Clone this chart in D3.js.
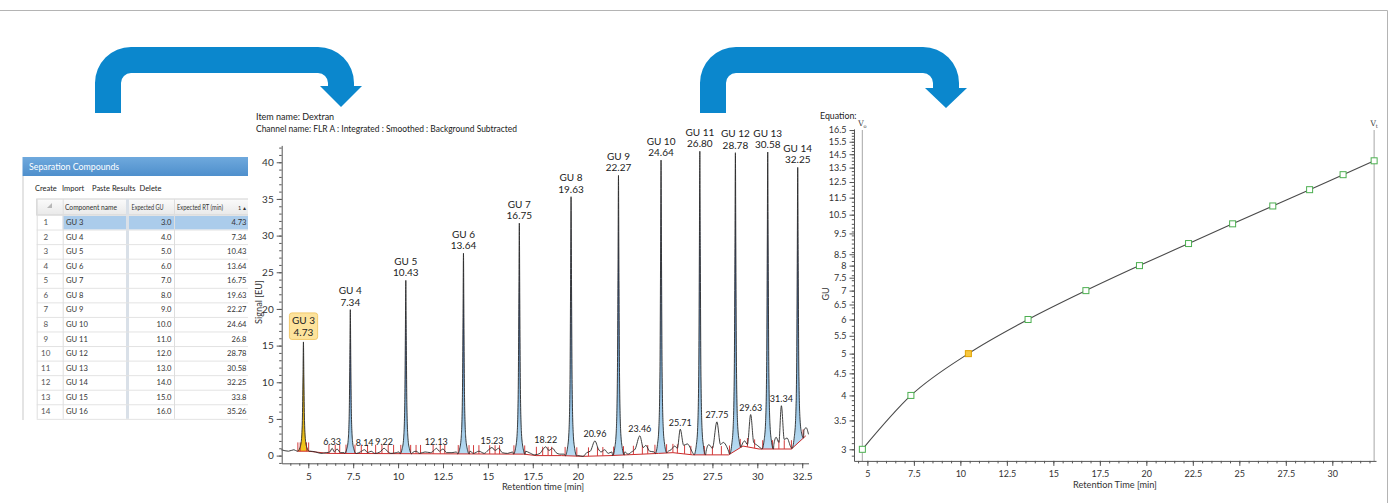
<!DOCTYPE html>
<html>
<head>
<meta charset="utf-8">
<script src="https://cdn.jsdelivr.net/npm/d3@7"></script>
<style>
  html, body { margin: 0; padding: 0; background: #fff; }
  svg { display: block; font-family: Lato, "Open Sans", sans-serif; }
  .tick text { fill: #333; }
  .axis path, .axis line { stroke: #555; }
</style>
</head>
<body>
<svg id="chart" width="1390" height="503"></svg>
<script>
// ---------- data ----------
// separation compounds table
const compNames = ['GU 3','GU 4','GU 5','GU 6','GU 7','GU 8','GU 9','GU 10','GU 11','GU 12','GU 13','GU 14','GU 15','GU 16'];
const compGU = [3,4,5,6,7,8,9,10,11,12,13,14,15,16];
const compRT = [4.73,7.34,10.43,13.64,16.75,19.63,22.27,24.64,26.8,28.78,30.58,32.25,33.8,35.26];

// chromatogram, labelled GU peaks
const peakGU = [3,4,5,6,7,8,9,10,11,12,13,14];
const peakRT = [4.73,7.34,10.43,13.64,16.75,19.63,22.27,24.64,26.80,28.78,30.58,32.25];
const peakHeight = [15.5,19.9,23.9,27.6,31.7,35.3,38.2,40.3,41.5,41.3,41.4,39.3];

// small labelled peaks
const minorRT = [6.33,8.14,9.22,12.13,15.23,18.22,20.96,23.46,25.71,27.75,29.63,31.34];
const minorHeight = [1.0,0.8,1.0,1.0,1.1,1.2,2.0,2.7,3.6,4.6,5.6,6.8];

// background trace between the big peaks [time, signal]
const traceNoise = [
  [3.5,0.8],[3.9,0.6],[4.2,0.8],[4.38,0.6],[5.1,0.6],[5.4,0.5],[5.7,0.3],[6.0,0.4],[6.2,0.5],[6.33,1.0],
  [6.45,0.5],[6.6,0.9],[6.8,0.4],[7.0,0.4],[7.7,0.3],[7.9,0.5],[8.14,0.8],[8.3,0.4],[8.5,0.6],[8.7,0.3],
  [9.0,0.5],[9.22,1.0],[9.4,0.6],[9.6,0.3],[9.9,0.4],[10.05,0.5],[10.8,0.4],[11.0,0.6],[11.2,0.3],[11.5,0.5],
  [11.8,0.4],[12.0,0.7],[12.13,1.0],[12.3,0.6],[12.5,0.9],[12.7,0.4],[13.0,0.4],[13.25,0.5],[14.0,0.6],[14.2,0.3],
  [14.5,0.6],[14.8,0.3],[15.0,0.7],[15.23,1.1],[15.4,0.7],[15.6,1.0],[15.8,0.4],[16.1,0.3],[16.38,0.5],[17.1,0.6],
  [17.3,0.4],[17.6,0.1],[17.9,0.3],[18.05,0.8],[18.22,1.2],[18.4,0.7],[18.6,1.0],[18.8,0.4],[19.0,0.2],[19.25,0.2],
  [20.0,0.0],[20.3,-0.1],[20.5,0.4],[20.7,0.6],[20.96,2.0],[21.15,0.9],[21.3,0.5],[21.5,0.8],[21.7,0.3],[21.9,0.5],
  [22.62,0.5],[22.8,0.2],[23.0,0.5],[23.2,0.9],[23.46,2.7],[23.65,1.1],[23.8,1.4],[24.0,0.6],[24.25,0.5],[25.0,0.5],
  [25.2,0.8],[25.4,1.3],[25.55,1.0],[25.71,3.6],[25.9,1.4],[26.1,1.6],[26.4,0.4],[27.15,0.6],[27.3,1.5],[27.5,1.0],
  [27.75,4.6],[27.95,1.5],[28.1,1.8],[28.4,0.6],[29.12,1.3],[29.3,2.0],[29.45,1.5],[29.63,5.6],[29.8,1.8],[30.0,1.4],
  [30.2,1.0],[30.92,1.5],[31.05,2.5],[31.2,1.8],[31.34,6.8],[31.5,2.2],[31.65,2.4],[31.88,1.1],[32.6,3.5],[32.72,3.8],[32.85,2.9]
];

// integration baseline [time, signal]
const baselineRT    = [4.4,5.0,6.1,17.0,17.7,19.1,20.3,21.8,24.5,25.3,26.4,28.4,29.2,30.1,31.9,32.7];
const baselineLevel = [0.6,0.6,0.3,0.2,0.0,0.0,-0.1,0.0,0.3,0.4,0.1,0.1,1.3,0.9,0.9,2.7];

// integration event markers (time)
const eventRT = [4.42,4.55,4.9,5.02,6.15,6.5,6.75,7.1,7.6,7.95,8.3,8.75,9.1,9.45,9.75,10.15,10.7,11.0,11.25,11.95,
  12.35,12.6,13.35,13.95,14.2,14.5,15.1,15.4,15.65,16.45,17.05,17.7,18.05,18.35,18.55,19.3,19.95,20.6,21.1,21.4,
  22.0,22.55,23.1,23.6,23.9,24.3,24.95,25.3,25.55,25.95,26.3,27.05,27.5,28.0,28.45,29.05,29.45,29.85,30.3,30.85,
  31.2,31.5,31.9,32.55];

const chromXTicks = [5,7.5,10,12.5,15,17.5,20,22.5,25,27.5,30,32.5];
const chromYTicks = [0,5,10,15,20,25,30,35,40];

// calibration curve
const calibRT = [4.73,7.34,10.43,13.64,16.75,19.63,22.27,24.64,26.80,28.78,30.58,32.25];
const calibGU = [3,4,5,6,7,8,9,10,11,12,13,14];
const calibXTicks = [5,7.5,10,12.5,15,17.5,20,22.5,25,27.5,30];
const calibYTicks = [3,3.5,4,4.5,5,5.5,6,6.5,7,7.5,8,8.5,9.5,10.5,11.5,12.5,13.5,14.5,15.5,16.5];
const markerRT = [4.73,32.25];
const markerName = ['o','t'];

// ---------- drawing ----------
const svg = d3.select('#chart');
const defs = svg.append('defs');

function grad(id, stops) {
  const g = defs.append('linearGradient').attr('id', id)
    .attr('x1', 0).attr('y1', 0).attr('x2', 0).attr('y2', 1);
  stops.forEach(s => g.append('stop').attr('offset', s[0]).attr('stop-color', s[1]));
}
grad('peakBlue', [[0,'#0f1850'],[0.35,'#34569a'],[0.7,'#7fb1db'],[1,'#b9ddf3']]);
grad('peakGold', [[0,'#5a4000'],[0.3,'#b88a00'],[1,'#f6c81a']]);
grad('titleBar', [[0,'#6fa9dd'],[1,'#4e8fcc']]);
grad('headBg', [[0,'#fbfbfb'],[1,'#e9e9e9']]);

// frame
svg.append('path').attr('d', 'M0,10.5H1387.5V503')
  .attr('fill', 'none').attr('stroke', '#b4b4b4');

// arrows
const arrowColor = '#0b87cd';
function arrowPath(xl, xr, yBot, yTop, cx, headY, tipY, T, R, headHalf) {
  const r = R - T;
  const xa = cx - T / 2, xb = cx + T / 2;
  return `M${xl},${yBot}V${yTop + R}A${R},${R} 0 0 1 ${xl + R},${yTop}` +
    `H${xb - R}A${R},${R} 0 0 1 ${xb},${yTop + R}V${headY}H${cx + headHalf}L${cx},${tipY}L${cx - headHalf},${headY}H${xa}` +
    `V${yTop + T + r}A${r},${r} 0 0 0 ${xa - r},${yTop + T}H${xr + r}A${r},${r} 0 0 0 ${xr},${yTop + T + r}V${yBot}Z`;
}
svg.append('path').attr('fill', arrowColor)
  .attr('d', arrowPath(95, 121, 113, 47, 341, 86, 107, 26, 36, 21));
svg.append('path').attr('fill', arrowColor)
  .attr('d', arrowPath(700, 726, 113, 47, 946, 88, 108, 26, 36, 21));

// ---------- table panel ----------
const tbl = svg.append('g');
tbl.append('clipPath').attr('id', 'tblClip').append('rect')
  .attr('x', 0).attr('y', 150).attr('width', 248).attr('height', 280);
const tg = tbl.append('g').attr('clip-path', 'url(#tblClip)');
tg.append('rect').attr('x', 22.5).attr('y', 157).attr('width', 240).attr('height', 19).attr('fill', 'url(#titleBar)');
tg.append('text').attr('x', 29).attr('y', 170).attr('fill', '#fff').attr('font-size', 8.8).text('Separation Compounds');
tg.append('line').attr('x1', 23).attr('x2', 23).attr('y1', 176).attr('y2', 420).attr('stroke', '#c9c9c9');

const tools = [['Create', 35], ['Import', 62], ['Paste Results', 92], ['Delete', 139.5]];
tg.selectAll('.tool').data(tools).join('text')
  .attr('x', d => d[1]).attr('y', 191).attr('font-size', 7.5).attr('fill', '#222').text(d => d[0]);

const colX = [36.7, 62.7, 126, 129, 174, 262];
const headTop = 199, headH = 16, rowH = 14.56;
const rowY = d3.scaleLinear().domain([0, 1]).range([headTop + headH, headTop + headH + rowH]);
const nRows = compNames.length;
const tableBottom = rowY(nRows);

tg.append('rect').attr('x', colX[0]).attr('y', headTop).attr('width', 230).attr('height', headH)
  .attr('fill', 'url(#headBg)').attr('stroke', '#d2d2d2');
// selected row
tg.append('rect').attr('x', colX[1]).attr('y', rowY(0)).attr('width', 200).attr('height', rowH).attr('fill', '#abcceb');
// column divider
tg.append('rect').attr('x', colX[2]).attr('y', headTop).attr('width', 3).attr('height', tableBottom - headTop).attr('fill', '#d9e0e8');
// grid
tg.selectAll('.hline').data(d3.range(nRows + 1)).join('line')
  .attr('x1', colX[0]).attr('x2', 250).attr('y1', d => rowY(d) + 0.5).attr('y2', d => rowY(d) + 0.5)
  .attr('stroke', '#e3e3e3');
[colX[0], colX[1], colX[4]].forEach(x => tg.append('line')
  .attr('x1', x + 0.5).attr('x2', x + 0.5).attr('y1', headTop).attr('y2', tableBottom).attr('stroke', '#dedede'));

tg.append('path').attr('d', `M${47},${208}L${52},${203}L${52},${208}Z`).attr('fill', '#b8b8b8');
const headers = [['Component name', 65, 52], ['Expected GU', 131.5, 32], ['Expected RT (min)', 177, 46], ['1 \u25B4', 238, 0]];
tg.selectAll('.head').data(headers).join('text')
  .attr('x', d => d[1]).attr('y', headTop + 10.8)
  .attr('textLength', d => d[2] || null).attr('lengthAdjust', 'spacingAndGlyphs')
  .attr('font-size', d => d[0].length < 4 ? 5.5 : 7.2).attr('fill', '#333').text(d => d[0]);

const rows = tg.selectAll('.row').data(compNames).join('g')
  .attr('transform', (d, i) => `translate(0,${rowY(i) + rowH / 2 + 2.8})`);
rows.append('text').attr('x', 45.7).attr('text-anchor', 'middle').attr('font-size', 8).attr('fill', '#555')
  .text((d, i) => i + 1);
rows.append('text').attr('x', 66).attr('font-size', 7.6).attr('fill', '#333').text(d => d);
rows.append('text').attr('x', 171.5).attr('text-anchor', 'end').attr('font-size', 7.6).attr('fill', '#333')
  .text((d, i) => compGU[i].toFixed(1));
rows.append('text').attr('x', 246.5).attr('text-anchor', 'end').attr('font-size', 7.6).attr('fill', '#333')
  .text((d, i) => String(compRT[i]));

// ---------- chromatogram ----------
const xC = d3.scaleLinear().domain([3.52, 32.85]).range([281.7, 808.5]);
const yC = d3.scaleLinear().domain([-1.05, 42.3]).range([463.3, 145.4]);
const baseAt = d3.scaleLinear().domain(baselineRT).range(baselineLevel).clamp(true);

svg.append('text').attr('x', 256).attr('y', 120).attr('font-size', 9).attr('fill', '#222')
  .text('Item name: Dextran');
svg.append('text').attr('x', 256).attr('y', 132).attr('font-size', 9).attr('fill', '#222')
  .attr('textLength', 261).attr('lengthAdjust', 'spacingAndGlyphs')
  .text('Channel name: FLR A : Integrated : Smoothed : Background Subtracted');

const chrom = svg.append('g');
const peakShape = [[-0.32,0],[-0.2,0.03],[-0.12,0.09],[-0.06,0.28],[-0.025,0.68],[0,1],[0.025,0.68],[0.06,0.28],[0.12,0.09],[0.2,0.03],[0.32,0]];
const peaks = peakRT.map((rt, i) => ({
  rt, gu: peakGU[i], h: peakHeight[i],
  pts: peakShape.map(([dt, f]) => ({ t: rt + dt, v: baseAt(rt + dt) + f * (peakHeight[i] - baseAt(rt)) }))
}));

const area = d3.area().x(d => xC(d.t)).y0(d => yC(baseAt(d.t))).y1(d => yC(d.v));
chrom.selectAll('.peakFill').data(peaks).join('path')
  .attr('fill', d => d.gu === 3 ? 'url(#peakGold)' : 'url(#peakBlue)')
  .attr('d', d => area(d.pts));

// red baseline and events
chrom.append('path')
  .attr('d', d3.line().x(d => xC(d[0])).y(d => yC(d[1]))(baselineRT.map((t, i) => [t, baselineLevel[i]])))
  .attr('fill', 'none').attr('stroke', '#cc2a2a').attr('stroke-width', 1);
chrom.selectAll('.evt').data(eventRT).join('line')
  .attr('x1', d => xC(d)).attr('x2', d => xC(d))
  .attr('y1', d => yC(baseAt(d))).attr('y2', d => yC(baseAt(d) + 1.2))
  .attr('stroke', '#d23c3c').attr('stroke-width', 1);

// signal trace
const trace = traceNoise
  .filter(p => !peakRT.some(rt => Math.abs(p[0] - rt) < 0.33))
  .map(p => ({ t: p[0], v: p[1] }))
  .concat(...peaks.map(p => p.pts))
  .sort((a, b) => a.t - b.t);
chrom.append('path')
  .attr('d', d3.line().x(d => xC(d.t)).y(d => yC(d.v)).curve(d3.curveMonotoneX)(trace))
  .attr('fill', 'none').attr('stroke', '#2a2a2a').attr('stroke-width', 0.9);

// axes
const xAxisC = chrom.append('g').attr('class', 'axis').attr('transform', `translate(0,${yC.range()[0]})`);
xAxisC.call(d3.axisBottom(xC).tickValues(d3.range(4, 33, 0.5)).tickSize(2.5).tickFormat('').tickSizeOuter(0));
xAxisC.append('g').call(d3.axisBottom(xC).tickValues(chromXTicks).tickSize(5).tickFormat(d3.format('~g')).tickSizeOuter(0))
  .call(g => g.select('.domain').remove())
  .selectAll('text').attr('font-size', 10).attr('dy', '0.85em');
const yAxisC = chrom.append('g').attr('class', 'axis').attr('transform', `translate(${xC.range()[0]},0)`);
yAxisC.call(d3.axisLeft(yC).tickValues(d3.range(-1, 43, 1)).tickSize(2.5).tickFormat('').tickSizeOuter(0));
yAxisC.append('g').call(d3.axisLeft(yC).tickValues(chromYTicks).tickSize(5).tickSizeOuter(0))
  .call(g => g.select('.domain').remove())
  .selectAll('text').attr('font-size', 10);
svg.selectAll('.axis text').attr('font-family', 'Lato, sans-serif');

chrom.append('text').attr('transform', 'translate(262,302) rotate(-90)').attr('text-anchor', 'middle')
  .attr('font-size', 9.2).attr('fill', '#333').text('Signal [EU]');
chrom.append('text').attr('x', 543).attr('y', 490).attr('text-anchor', 'middle')
  .attr('font-size', 9.2).attr('fill', '#333').text('Retention time [min]');

// peak labels
const gu3 = peaks.find(p => p.gu === 3);
const box = chrom.append('rect').attr('rx', 2.5).attr('fill', '#fde39c').attr('stroke', '#f2ca6e');
const labels = chrom.selectAll('.plab').data(peaks).join('g')
  .attr('transform', d => `translate(${xC(d.rt)},${yC(d.h) - (d.gu === 3 ? 6 : 4)})`);
labels.append('text').attr('y', -11.5).attr('text-anchor', 'middle').attr('font-size', 10).attr('fill', '#222')
  .text(d => 'GU ' + d.gu);
labels.append('text').attr('text-anchor', 'middle').attr('font-size', 10).attr('fill', '#222')
  .text(d => d.rt.toFixed(2));
const bb = labels.filter(d => d.gu === 3).node().getBBox();
box.attr('x', xC(gu3.rt) + bb.x - 2.5).attr('y', yC(gu3.h) - 6 + bb.y - 1.5)
  .attr('width', bb.width + 5).attr('height', bb.height + 3);

chrom.selectAll('.mlab').data(minorRT).join('text')
  .attr('x', d => xC(d)).attr('y', (d, i) => yC(minorHeight[i]) - 3.5)
  .attr('text-anchor', 'middle').attr('font-size', 9).attr('fill', '#222')
  .text(d => d.toFixed(2));

// ---------- calibration curve ----------
const xR = d3.scaleLinear().domain([4.28, 32.35]).range([854, 1376]);
const yR = d3.scaleLog().domain([2.82, 16.6]).range([460.9, 128.9]);
const cal = svg.append('g');

cal.append('text').attr('x', 820).attr('y', 119).attr('font-size', 8.8).attr('fill', '#222').text('Equation:');

cal.selectAll('.vline').data(markerRT).join('line')
  .attr('x1', d => xR(d)).attr('x2', d => xR(d)).attr('y1', 130).attr('y2', yR.range()[0])
  .attr('stroke', '#b5b5b5').attr('stroke-width', 1.2);
const vlab = cal.selectAll('.vlab').data(markerRT).join('text')
  .attr('x', d => xR(d)).attr('y', 126).attr('text-anchor', 'middle')
  .attr('font-family', '"DejaVu Serif", serif').attr('font-size', 7.5).attr('fill', '#333');
vlab.append('tspan').text('V');
vlab.append('tspan').attr('font-size', 5).attr('dy', 1.5).text((d, i) => markerName[i]);

const xAxisR = cal.append('g').attr('class', 'axis').attr('transform', `translate(0,${yR.range()[0]})`);
xAxisR.call(d3.axisBottom(xR).tickValues(d3.range(4.5, 32.4, 0.5)).tickSize(2.5).tickFormat('').tickSizeOuter(0));
xAxisR.append('g').call(d3.axisBottom(xR).tickValues(calibXTicks).tickSize(5).tickFormat(d3.format('~g')).tickSizeOuter(0))
  .call(g => g.select('.domain').remove())
  .selectAll('text').attr('font-size', 9).attr('dy', '0.85em');
const minorY = d3.range(2.9, 5, 0.1).concat(d3.range(5, 10, 0.2), d3.range(10, 16.6, 0.25));
const yAxisR = cal.append('g').attr('class', 'axis').attr('transform', `translate(${xR.range()[0]},0)`);
yAxisR.call(d3.axisLeft(yR).tickValues(minorY).tickSize(2.2).tickFormat('').tickSizeOuter(0));
yAxisR.append('g').call(d3.axisLeft(yR).tickValues(calibYTicks).tickSize(4.5).tickFormat(d3.format('~g')).tickSizeOuter(0))
  .call(g => g.select('.domain').remove())
  .selectAll('text').attr('font-size', 9);
svg.selectAll('.axis text').attr('font-family', 'Lato, sans-serif');

cal.append('text').attr('transform', 'translate(829,294) rotate(-90)').attr('text-anchor', 'middle')
  .attr('font-size', 9).attr('fill', '#333').text('GU');
cal.append('text').attr('x', 1115).attr('y', 488).attr('text-anchor', 'middle')
  .attr('font-size', 9.2).attr('fill', '#333').text('Retention Time [min]');

const calPts = calibRT.map((t, i) => [t, calibGU[i]]);
cal.append('path')
  .attr('d', d3.line().x(d => xR(d[0])).y(d => yR(d[1])).curve(d3.curveMonotoneX)(calPts))
  .attr('fill', 'none').attr('stroke', '#4a4a4a').attr('stroke-width', 1.1);
cal.selectAll('.pt').data(calPts).join('rect')
  .attr('x', d => xR(d[0]) - 3).attr('y', d => yR(d[1]) - 3).attr('width', 6).attr('height', 6)
  .attr('fill', d => d[1] === 5 ? '#f7c840' : '#ffffff')
  .attr('stroke', d => d[1] === 5 ? '#e0a100' : '#4caf50').attr('stroke-width', 1);
</script>
</body>
</html>
